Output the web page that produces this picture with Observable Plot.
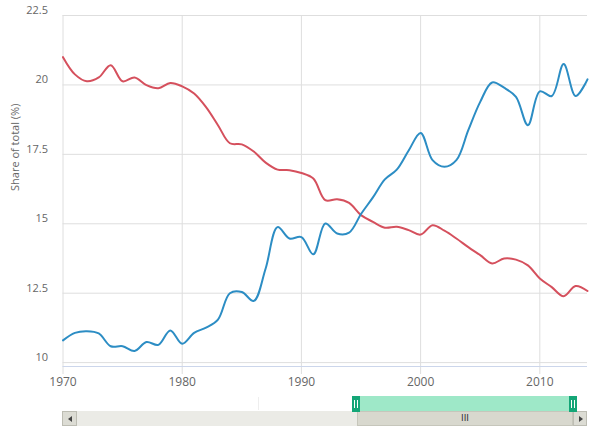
<!DOCTYPE html>
<html><head><meta charset="utf-8">
<script src="https://cdn.jsdelivr.net/npm/d3@7"></script>
<script src="https://cdn.jsdelivr.net/npm/@observablehq/plot@0.6"></script>
<style>
body{margin:0;background:#fff;font-family:"Open Sans",sans-serif}
#wrap{position:relative;width:595px;height:433px;overflow:hidden;background:#fff}
#chart svg{display:block}
.a{position:absolute;box-sizing:border-box}
.grip{position:absolute;left:2px;top:4px;width:4px;height:8px;border-left:1px solid #fff;border-right:1px solid #fff;box-sizing:border-box}
.tri{position:absolute;width:0;height:0;border-top:3px solid transparent;border-bottom:3px solid transparent}
</style></head><body>
<div id="wrap">
  <div id="chart"></div>
  <div class="a" style="left:258px;top:397px;width:1px;height:13px;background:#eeeeee"></div>
  <div class="a" style="left:62px;top:411px;width:525px;height:15px;background:#ebebe6"></div>
  <div class="a" style="left:357px;top:411px;width:216px;height:15px;background:#d8d8ce;border:1px solid #c6c6bb;font:9px 'DejaVu Sans',sans-serif;color:#333;text-align:center;line-height:13px;letter-spacing:0px">III</div>
  <div class="a" style="left:62px;top:411px;width:15px;height:15px;background:#dcdcd4;border:1px solid #bdbdb3"><div class="tri" style="left:5px;top:4px;border-right:4px solid #444"></div></div>
  <div class="a" style="left:573px;top:411px;width:14px;height:15px;background:#dcdcd4;border:1px solid #bdbdb3"><div class="tri" style="left:5px;top:4px;border-left:4px solid #444"></div></div>
  <div class="a" style="left:360px;top:396px;width:209px;height:15px;background:#9ee8c8"></div>
  <div class="a" style="left:352px;top:396px;width:8px;height:16px;background:#14a677"><div class="grip"></div></div>
  <div class="a" style="left:569px;top:396px;width:8px;height:16px;background:#14a677"><div class="grip"></div></div>
</div>
<script>
const years = [1970,1971,1972,1973,1974,1975,1976,1977,1978,1979,
               1980,1981,1982,1983,1984,1985,1986,1987,1988,1989,
               1990,1991,1992,1993,1994,1995,1996,1997,1998,1999,
               2000,2001,2002,2003,2004,2005,2006,2007,2008,2009,
               2010,2011,2012,2013,2014];
const redShare = [21.0,20.38,20.13,20.27,20.71,20.13,20.27,19.99,19.88,20.07,
                  19.95,19.69,19.2,18.55,17.9,17.86,17.6,17.2,16.95,16.93,
                  16.83,16.63,15.85,15.88,15.75,15.31,15.07,14.86,14.89,14.77,
                  14.61,14.95,14.75,14.47,14.16,13.87,13.57,13.75,13.71,13.5,
                  13.03,12.72,12.39,12.76,12.58];
const blueShare = [10.8,11.07,11.13,11.05,10.59,10.59,10.42,10.74,10.64,11.16,
                   10.68,11.07,11.26,11.55,12.5,12.54,12.22,13.39,14.88,14.47,
                   14.52,13.9,15.01,14.65,14.68,15.35,15.95,16.6,16.95,17.64,
                   18.27,17.29,17.05,17.29,18.37,19.39,20.09,19.9,19.57,18.55,
                   19.77,19.6,20.75,19.6,20.2];
const yTicks = [10, 12.5, 15, 17.5, 20, 22.5];
const xTicks = [1970, 1980, 1990, 2000, 2010];
const yTitle = "Share of total (%)";

const redRows = years.map((y, i) => ({year: y, value: redShare[i]}));
const blueRows = years.map((y, i) => ({year: y, value: blueShare[i]}));

const plot = Plot.plot({
  width: 595, height: 395,
  marginLeft: 62.5, marginRight: 8, marginTop: 15, marginBottom: 29,
  style: {fontFamily: "'Open Sans', sans-serif", fontSize: "11px", color: "#666", background: "#fff"},
  x: {domain: [1970, 2014]},
  y: {domain: [9.86, 22.5]},
  marks: [
    Plot.gridY(yTicks, {stroke: "#dedede", strokeOpacity: 1}),
    Plot.gridX(xTicks, {stroke: "#dedede", strokeOpacity: 1}),
    Plot.axisY(yTicks, {tickSize: 0, tickPadding: 15, dy: -5, tickFormat: d => String(d), fill: "#666", label: null, fontSize: 11}),
    Plot.axisX(xTicks, {tickSize: 8, tickPadding: 3, tickFormat: d => String(d), stroke: "#dedede", fill: "#666", label: null, fontSize: 12}),
    Plot.ruleY([9.86], {stroke: "#ccd6eb"}),
    Plot.line(redRows, {x: "year", y: "value", stroke: "#d5505d", strokeWidth: 2, curve: "catmull-rom"}),
    Plot.line(blueRows, {x: "year", y: "value", stroke: "#2c8dc4", strokeWidth: 2, curve: "catmull-rom"}),
    Plot.text([yTitle], {frameAnchor: "left", rotate: -90, dx: -48, fill: "#666", fontSize: 11})
  ]
});
document.getElementById("chart").appendChild(plot);
</script>
</body></html>
